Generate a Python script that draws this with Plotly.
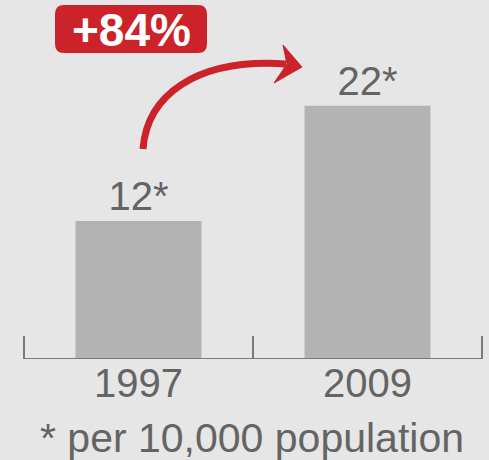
import plotly.graph_objects as go

# ---- data ----
years = ["1997", "2009"]
rates = [12, 22]
bar_labels = ["12*", "22*"]
change_label = "+84%"
footnote = "* per 10,000 population"
bracket_ticks = [-0.5, 0.5, 1.5]

W, H = 489, 460
ML, MR, MT, MB = 22, 5, 0, 101
PW, PH = W - ML - MR, H - MT - MB
UNIT = 229.0  # px per category step
XR = [-0.5 - 2 / UNIT, 1.5 + 2 / UNIT]

def px(x):
    return (x - ML) / PW

def py(y):
    return (H - MB - y) / PH

def path(cmds):
    out = []
    for c in cmds:
        if isinstance(c, str):
            out.append(c)
        else:
            out.append(f"{px(c[0]):.5f},{py(c[1]):.5f}")
    return " ".join(out)

BG = "#e6e6e6"
BAR = "#b3b3b3"
TXT = "#646464"
RED = "#cc2229"
AX = "#7a7a7a"
FONT = "Liberation Sans, Arial, sans-serif"

xpos = list(range(len(years)))

fig = go.Figure()
fig.add_trace(go.Bar(
    x=xpos, y=rates, width=0.55, marker=dict(color=BAR, line=dict(width=0)),
    text=bar_labels, textposition="outside", cliponaxis=False,
    textfont=dict(family=FONT, size=40, color=TXT), hoverinfo="skip",
))

shapes = []
# axis bracket (baseline + upward ticks)
shapes.append(dict(type="line", xref="x", yref="y", x0=bracket_ticks[0], x1=bracket_ticks[-1],
                   y0=0, y1=0, line=dict(color=AX, width=2)))
for t in bracket_ticks:
    shapes.append(dict(type="line", xref="x", yref="y", ysizemode="pixel", yanchor=0,
                       x0=t, x1=t, y0=-1, y1=23, line=dict(color=AX, width=2)))
# rounded badge
x0, x1, y0, y1, r = 55, 207, 5, 53, 9
badge = path(["M", (x0 + r, y0), "L", (x1 - r, y0), "Q", (x1, y0), (x1, y0 + r),
              "L", (x1, y1 - r), "Q", (x1, y1), (x1 - r, y1),
              "L", (x0 + r, y1), "Q", (x0, y1), (x0, y1 - r),
              "L", (x0, y0 + r), "Q", (x0, y0), (x0 + r, y0), "Z"])
shapes.append(dict(type="path", xref="paper", yref="paper", path=badge,
                   fillcolor=RED, line=dict(width=0)))
# curved arrow
curve = path(["M", (143, 149), "C", (147, 96), (195, 58), (286, 64)])
shapes.append(dict(type="path", xref="paper", yref="paper", path=curve,
                   line=dict(color=RED, width=7)))
head = path(["M", (302, 67), "L", (283, 45), "L", (287, 64), "L", (274, 83), "Z"])
shapes.append(dict(type="path", xref="paper", yref="paper", path=head,
                   fillcolor=RED, line=dict(color=RED, width=1)))

annotations = [
    dict(text="<b>" + change_label + "</b>", xref="paper", yref="paper",
         x=px(131), y=py(30), xanchor="center", yanchor="middle", showarrow=False,
         font=dict(family=FONT, size=46, color="white")),
    dict(text=footnote, xref="paper", yref="paper",
         x=px(252), y=py(438), xanchor="center", yanchor="middle", showarrow=False,
         font=dict(family=FONT, size=41, color=TXT)),
]
for xi, yr in zip(xpos, years):
    annotations.append(dict(text=yr, xref="x", yref="paper", x=xi, y=py(383),
                            xanchor="center", yanchor="middle", showarrow=False,
                            font=dict(family=FONT, size=40, color=TXT)))

fig.update_layout(
    width=W, height=H, margin=dict(l=ML, r=MR, t=MT, b=MB),
    paper_bgcolor=BG, plot_bgcolor=BG, showlegend=False,
    shapes=shapes, annotations=annotations,
    xaxis=dict(range=XR, visible=False, showgrid=False, zeroline=False),
    yaxis=dict(range=[0, 31.2], visible=False, showgrid=False, zeroline=False),
)

fig.write_html("out.html", config={"displayModeBar": False},
               post_script="document.body.style.margin='0';document.body.style.padding='0';")
